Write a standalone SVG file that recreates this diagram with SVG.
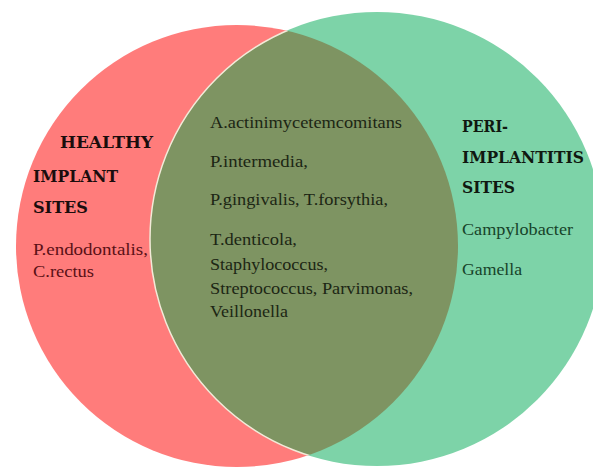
<svg xmlns="http://www.w3.org/2000/svg" width="593" height="471" viewBox="0 0 593 471">
  <style>
    .head { font-family: "DejaVu Serif", "Liberation Serif", serif; font-weight: bold; font-size: 17px; fill: #1a0d0d; }
    .headR { font-family: "DejaVu Serif", "Liberation Serif", serif; font-weight: bold; font-size: 17px; fill: #101810; }
    .lt { font-family: "Liberation Serif", serif; font-size: 17px; fill: #5a1016; }
    .mt { font-family: "Liberation Serif", serif; font-size: 17px; fill: #1c2614; }
    .rt { font-family: "Liberation Serif", serif; font-size: 17px; fill: #17432a; }
  </style>
  <defs>
    <clipPath id="clipGreen"><circle cx="377" cy="239" r="227"/></clipPath>
    <clipPath id="clipRed"><circle cx="237" cy="246" r="221"/></clipPath>
  </defs>
  <rect width="593" height="471" fill="#ffffff"/>
  <g id="healthy">
    <circle cx="237" cy="246" r="221" fill="#ff7c7b"/>
  </g>
  <g id="peri">
    <circle cx="377" cy="239" r="227" fill="#7dd3a8"/>
  </g>
  <g id="overlap">
    <circle cx="237" cy="246" r="221" fill="#7e9462" clip-path="url(#clipGreen)"/>
    <circle cx="377" cy="239" r="227" fill="none" stroke="#f3ead8" stroke-width="1.5" clip-path="url(#clipRed)"/>
  </g>
  <g id="connectors"></g>
  <g id="healthy-text">
    <text class="head" x="60" y="148" textLength="93" lengthAdjust="spacingAndGlyphs">HEALTHY</text>
    <text class="head" x="33" y="182" textLength="85" lengthAdjust="spacingAndGlyphs">IMPLANT</text>
    <text class="head" x="33" y="213" textLength="55" lengthAdjust="spacingAndGlyphs">SITES</text>
    <text class="lt" x="33" y="255" textLength="115" lengthAdjust="spacingAndGlyphs">P.endodontalis,</text>
    <text class="lt" x="33" y="277" textLength="61" lengthAdjust="spacingAndGlyphs">C.rectus</text>
  </g>
  <g id="overlap-text">
    <text class="mt" x="210" y="128" textLength="192" lengthAdjust="spacingAndGlyphs">A.actinimycetemcomitans</text>
    <text class="mt" x="210" y="167" textLength="98" lengthAdjust="spacingAndGlyphs">P.intermedia,</text>
    <text class="mt" x="210" y="205" textLength="178" lengthAdjust="spacingAndGlyphs">P.gingivalis, T.forsythia,</text>
    <text class="mt" x="210" y="245" textLength="87" lengthAdjust="spacingAndGlyphs">T.denticola,</text>
    <text class="mt" x="210" y="270" textLength="118" lengthAdjust="spacingAndGlyphs">Staphylococcus,</text>
    <text class="mt" x="210" y="294" textLength="203" lengthAdjust="spacingAndGlyphs">Streptococcus, Parvimonas,</text>
    <text class="mt" x="210" y="317" textLength="78" lengthAdjust="spacingAndGlyphs">Veillonella</text>
  </g>
  <g id="peri-text">
    <text class="headR" x="462" y="132" textLength="46" lengthAdjust="spacingAndGlyphs">PERI-</text>
    <text class="headR" x="462" y="163" textLength="122" lengthAdjust="spacingAndGlyphs">IMPLANTITIS</text>
    <text class="headR" x="462" y="193" textLength="53" lengthAdjust="spacingAndGlyphs">SITES</text>
    <text class="rt" x="462" y="235" textLength="111" lengthAdjust="spacingAndGlyphs">Campylobacter</text>
    <text class="rt" x="462" y="275" textLength="60" lengthAdjust="spacingAndGlyphs">Gamella</text>
  </g>
</svg>
